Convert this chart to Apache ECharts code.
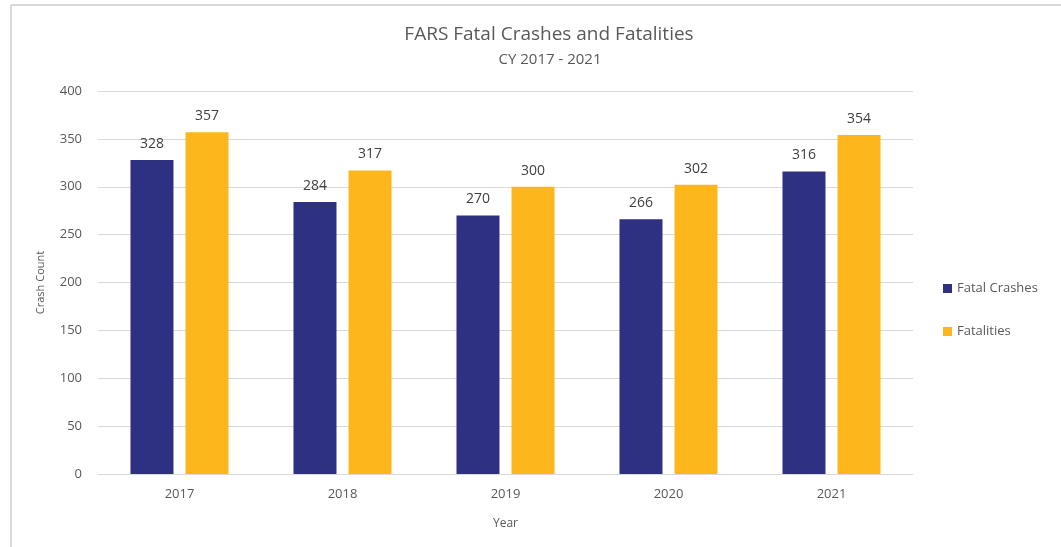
<!DOCTYPE html>
<html>
<head>
<meta charset="utf-8">
<script src="https://cdn.jsdelivr.net/npm/echarts@6/dist/echarts.min.js"></script>
<style>
  html, body { margin: 0; padding: 0; background: #fff; }
  #chart { width: 1061px; height: 547px; }
</style>
</head>
<body>
<div id="chart"></div>
<script>
// Yearly FARS counts
const years = ['2017', '2018', '2019', '2020', '2021'];
const fatalCrashes = [328, 284, 270, 266, 316];
const fatalities = [357, 317, 300, 302, 354];
const yTicks = { min: 0, max: 400, interval: 50 };

const FONT = 'Open Sans, Noto Sans, sans-serif';
const TEXT = '#595959';

const chart = echarts.init(document.getElementById('chart'));
chart.setOption({
  animation: false,
  backgroundColor: '#fff',
  textStyle: { fontFamily: FONT },
  title: [
    {
      text: 'FARS Fatal Crashes and Fatalities',
      left: 544, top: 20, textAlign: 'center',
      textStyle: { fontSize: 19, fontWeight: 'normal', color: TEXT, fontFamily: FONT }
    },
    {
      text: 'CY 2017 - 2021',
      left: 545, top: 47, textAlign: 'center',
      textStyle: { fontSize: 15, fontWeight: 'normal', color: TEXT, fontFamily: FONT }
    }
  ],
  graphic: [
    { type: 'line', shape: { x1: 11, y1: 5, x2: 1061, y2: 5 }, style: { stroke: '#d9d9d9', lineWidth: 2 } },
    { type: 'line', shape: { x1: 11, y1: 5, x2: 11, y2: 547 }, style: { stroke: '#d9d9d9', lineWidth: 2 } }
  ],
  legend: {
    orient: 'vertical',
    left: 938, top: 277,
    itemWidth: 9, itemHeight: 9, itemGap: 30,
    icon: 'rect',
    textStyle: { fontSize: 13, color: TEXT, fontFamily: FONT },
    data: ['Fatal Crashes', 'Fatalities']
  },
  grid: { left: 98, right: 148, top: 91, bottom: 73 },
  xAxis: {
    type: 'category',
    data: years,
    name: 'Year',
    nameLocation: 'middle',
    nameGap: 44,
    nameTextStyle: { fontSize: 12, color: TEXT },
    axisLine: { lineStyle: { color: '#d9d9d9', width: 1 } },
    axisTick: { show: false },
    axisLabel: { fontSize: 13, color: TEXT, margin: 14 }
  },
  yAxis: {
    type: 'value',
    min: yTicks.min, max: yTicks.max, interval: yTicks.interval,
    name: 'Crash Count',
    nameLocation: 'middle',
    nameGap: 52,
    nameTextStyle: { fontSize: 11, color: TEXT },
    axisLine: { show: false },
    axisTick: { show: false },
    axisLabel: { fontSize: 13, color: TEXT, margin: 16 },
    splitLine: { lineStyle: { color: '#d9d9d9', width: 1 } }
  },
  series: [
    {
      name: 'Fatal Crashes',
      type: 'bar',
      data: fatalCrashes,
      barWidth: 43,
      barGap: '28%',
      itemStyle: { color: '#2e3182' },
      label: { show: true, position: 'top', distance: 9, fontSize: 14, color: '#404040', fontFamily: FONT }
    },
    {
      name: 'Fatalities',
      type: 'bar',
      data: fatalities,
      barWidth: 43,
      itemStyle: { color: '#fdb71d' },
      label: { show: true, position: 'top', distance: 9, fontSize: 14, color: '#404040', fontFamily: FONT }
    }
  ]
});
</script>
</body>
</html>
